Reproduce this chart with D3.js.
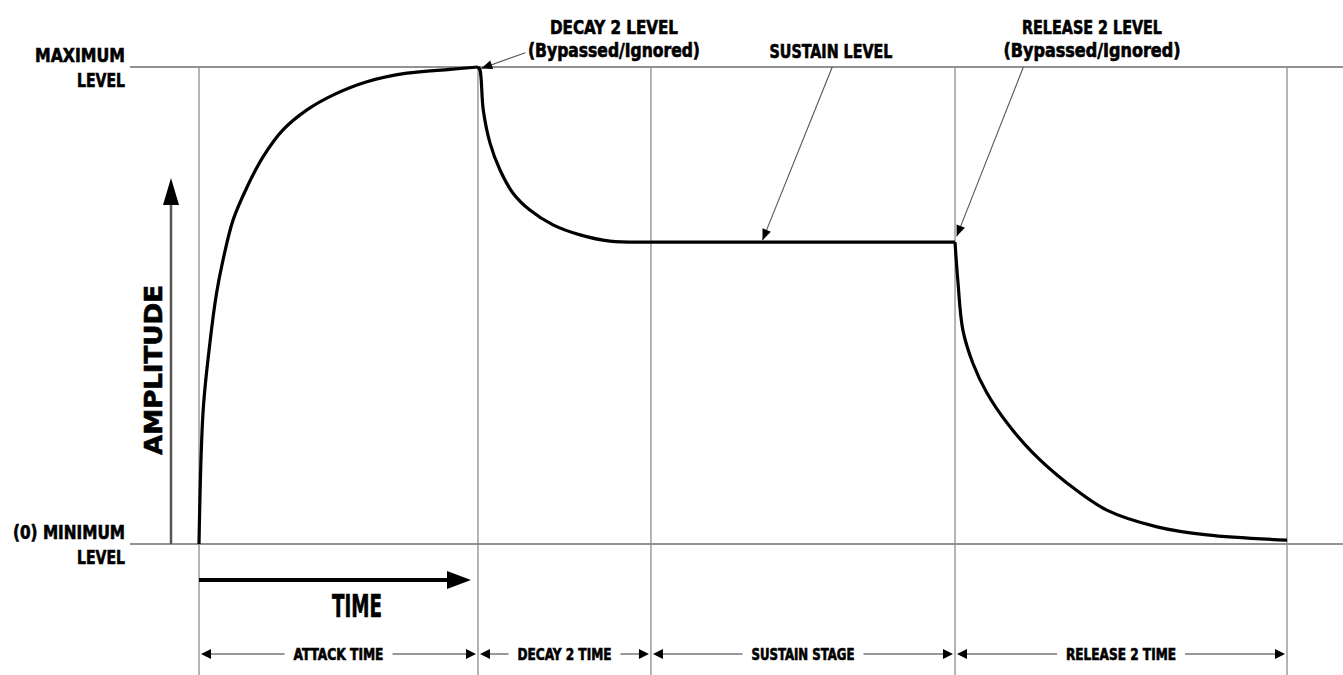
<!DOCTYPE html>
<html>
<head>
    <meta charset="utf-8">
    <title>Envelope</title>
    <script src="https://cdnjs.cloudflare.com/ajax/libs/d3/7.8.5/d3.min.js"></script>
    <style type="text/css">
        body { margin: 0; background: #fff; }
        .lbl {
            font-family: "Liberation Sans Narrow", "DejaVu Sans Condensed", "Arial Narrow", sans-serif;
            font-weight: bold;
            fill: #000;
            stroke: #000;
            stroke-width: 0.6;
        }
        .grid { stroke: #8c8c8c; stroke-width: 1.3; }
        .level { stroke: #6e6e6e; stroke-width: 1.6; }
    </style>
</head>
<body>
<div id="chart"></div>
<script type="text/javascript">
    // stage boundaries (time units) and names
    var stageBounds = [0, 10, 16.2, 27.1, 39];
    var stageNames = ["ATTACK TIME", "DECAY 2 TIME", "SUSTAIN STAGE", "RELEASE 2 TIME"];

    // envelope segments (time, amplitude 0..1)
    var attackT = [0, 0.15, 0.39, 0.63, 0.86, 1.22, 1.72, 2.29, 3.01, 3.87, 4.80, 6.02, 7.45, 9.0, 10];
    var attackA = [0, 0.281, 0.421, 0.526, 0.595, 0.679, 0.748, 0.811, 0.868, 0.910, 0.941, 0.969, 0.987, 0.995, 1];
    var decayT = [10, 10.07, 10.19, 10.43, 10.79, 11.25, 11.86, 12.69, 13.66, 14.73, 16.2];
    var decayA = [1, 0.994, 0.910, 0.841, 0.784, 0.736, 0.700, 0.669, 0.648, 0.635, 0.633];
    var sustainT = [16.2, 27.1];
    var sustainA = [0.633, 0.633];
    var releaseT = [27.1, 27.2, 27.38, 27.74, 28.24, 28.96, 29.89, 31.11, 32.54, 34.34, 36.13, 39];
    var releaseA = [0.633, 0.553, 0.449, 0.379, 0.317, 0.254, 0.191, 0.128, 0.071, 0.036, 0.019, 0.008];

    var levelLabels = [["MAXIMUM", "LEVEL"], ["(0) MINIMUM", "LEVEL"]];
    var levelValues = [1, 0];

    var w = 1343, h = 675;
    var svg = d3.select("#chart").append("svg").attr("width", w).attr("height", h);

    var xScale = d3.scaleLinear().domain([0, 39]).range([199, 1287]);
    var yScale = d3.scaleLinear().domain([0, 1]).range([544, 67]);

    function head(x1, y1, x2, y2, len, hw) {
        var a = Math.atan2(y2 - y1, x2 - x1);
        var bx = x2 - len * Math.cos(a), by = y2 - len * Math.sin(a);
        var px = -Math.sin(a) * hw, py = Math.cos(a) * hw;
        return [[x2, y2], [bx + px, by + py], [bx - px, by - py]].map(function (p) { return p.join(","); }).join(" ");
    }

    // horizontal level lines
    svg.selectAll("line.level")
        .data(levelValues)
        .enter().append("line")
        .attr("class", "level")
        .attr("x1", 130).attr("x2", w)
        .attr("y1", function (d) { return yScale(d); })
        .attr("y2", function (d) { return yScale(d); });

    // vertical stage lines
    svg.selectAll("line.grid")
        .data(stageBounds)
        .enter().append("line")
        .attr("class", "grid")
        .attr("x1", function (d) { return xScale(d); })
        .attr("x2", function (d) { return xScale(d); })
        .attr("y1", yScale(1)).attr("y2", h);

    // level labels
    var lvl = svg.selectAll("g.lvlLabel")
        .data(levelValues)
        .enter().append("g");
    lvl.append("text").attr("class", "lbl")
        .attr("x", 125).attr("y", function (d) { return yScale(d) - 5; })
        .attr("text-anchor", "end").attr("font-size", 19)
        .attr("textLength", function (d, i) { return i === 0 ? 90 : 112; })
        .attr("lengthAdjust", "spacingAndGlyphs")
        .text(function (d, i) { return levelLabels[i][0]; });
    lvl.append("text").attr("class", "lbl")
        .attr("x", 125).attr("y", function (d) { return yScale(d) + 20; })
        .attr("text-anchor", "end").attr("font-size", 19)
        .attr("textLength", 48).attr("lengthAdjust", "spacingAndGlyphs")
        .text(function (d, i) { return levelLabels[i][1]; });

    // envelope curve
    var line = d3.line()
        .x(function (d) { return xScale(d[0]); })
        .y(function (d) { return yScale(d[1]); })
        .curve(d3.curveCatmullRom.alpha(0.5));
    var segs = [[attackT, attackA], [decayT, decayA], [sustainT, sustainA], [releaseT, releaseA]];
    svg.selectAll("path.env")
        .data(segs)
        .enter().append("path")
        .attr("class", "env")
        .attr("d", function (s) { return line(d3.zip(s[0], s[1])); })
        .attr("fill", "none").attr("stroke", "#000").attr("stroke-width", 3.2)
        .attr("stroke-linejoin", "round");

    // amplitude arrow
    var axX = 171;
    svg.append("line").attr("x1", axX).attr("x2", axX)
        .attr("y1", yScale(0)).attr("y2", 200)
        .attr("stroke", "#555").attr("stroke-width", 2.5);
    svg.append("polygon").attr("points", head(axX, 400, axX, 178, 27, 8)).attr("fill", "#000");
    svg.append("text").attr("class", "lbl")
        .attr("transform", "translate(162,370) rotate(-90)")
        .attr("text-anchor", "middle").attr("font-size", 25)
        .attr("textLength", 170).attr("lengthAdjust", "spacingAndGlyphs")
        .text("AMPLITUDE");

    // time arrow
    var tY = 580;
    svg.append("line").attr("x1", xScale(0)).attr("x2", 455)
        .attr("y1", tY).attr("y2", tY)
        .attr("stroke", "#000").attr("stroke-width", 4);
    svg.append("polygon").attr("points", head(300, tY, 471, tY, 24, 9)).attr("fill", "#000");
    svg.append("text").attr("class", "lbl")
        .attr("x", 357).attr("y", 617)
        .attr("text-anchor", "middle").attr("font-size", 32)
        .attr("textLength", 50).attr("lengthAdjust", "spacingAndGlyphs")
        .text("TIME");

    // stage durations
    var dY = 654;
    var stageWidths = [90, 94, 103, 110];
    var stages = svg.selectAll("g.stage")
        .data(stageNames)
        .enter().append("g").attr("class", "stage");
    stages.append("line")
        .attr("x1", function (d, i) { return xScale(stageBounds[i]) + 4; })
        .attr("x2", function (d, i) { return xScale(stageBounds[i + 1]) - 4; })
        .attr("y1", dY).attr("y2", dY)
        .attr("stroke", "#777").attr("stroke-width", 1.5);
    stages.append("rect")
        .attr("x", function (d, i) { return (xScale(stageBounds[i]) + xScale(stageBounds[i + 1])) / 2 - stageWidths[i] / 2 - 9; })
        .attr("y", dY - 8).attr("height", 16)
        .attr("width", function (d, i) { return stageWidths[i] + 18; })
        .attr("fill", "#fff");
    stages.append("text").attr("class", "lbl")
        .attr("x", function (d, i) { return (xScale(stageBounds[i]) + xScale(stageBounds[i + 1])) / 2; })
        .attr("y", dY + 6)
        .attr("text-anchor", "middle").attr("font-size", 15)
        .attr("textLength", function (d, i) { return stageWidths[i]; })
        .attr("lengthAdjust", "spacingAndGlyphs")
        .text(function (d) { return d; });
    stages.append("polygon")
        .attr("points", function (d, i) {
            var a = xScale(stageBounds[i]);
            return head(a + 30, dY, a + 2, dY, 10, 5);
        }).attr("fill", "#000");
    stages.append("polygon")
        .attr("points", function (d, i) {
            var b = xScale(stageBounds[i + 1]);
            return head(b - 30, dY, b - 2, dY, 10, 5);
        }).attr("fill", "#000");

    // callouts: text lines, centre x, tail (t, a), tip (t, a)
    var callouts = [
        { lines: ["DECAY 2 LEVEL", "(Bypassed/Ignored)"], widths: [128, 172], cx: 614, tail: [11.7, 1.03], tip: [10.12, 0.997] },
        { lines: ["SUSTAIN LEVEL"], widths: [123], cx: 831, tail: [22.7, 1.0], tip: [20.2, 0.637] },
        { lines: ["RELEASE 2 LEVEL", "(Bypassed/Ignored)"], widths: [140, 177], cx: 1092, tail: [29.55, 1.0], tip: [27.16, 0.645] }
    ];
    callouts.forEach(function (c) {
        var x1 = xScale(c.tail[0]), y1 = yScale(c.tail[1]);
        var x2 = xScale(c.tip[0]), y2 = yScale(c.tip[1]);
        svg.append("line").attr("x1", x1).attr("y1", y1).attr("x2", x2).attr("y2", y2)
            .attr("stroke", "#555").attr("stroke-width", 1.1);
        svg.append("polygon").attr("points", head(x1, y1, x2, y2, 11, 4.5)).attr("fill", "#000");
        var base = c.lines.length === 2 ? 34 : 58;
        c.lines.forEach(function (t, i) {
            svg.append("text").attr("class", "lbl")
                .attr("x", c.cx).attr("y", base + i * 23)
                .attr("text-anchor", "middle").attr("font-size", 19)
                .attr("textLength", c.widths[i]).attr("lengthAdjust", "spacingAndGlyphs")
                .text(t);
        });
    });
</script>
</body>
</html>
